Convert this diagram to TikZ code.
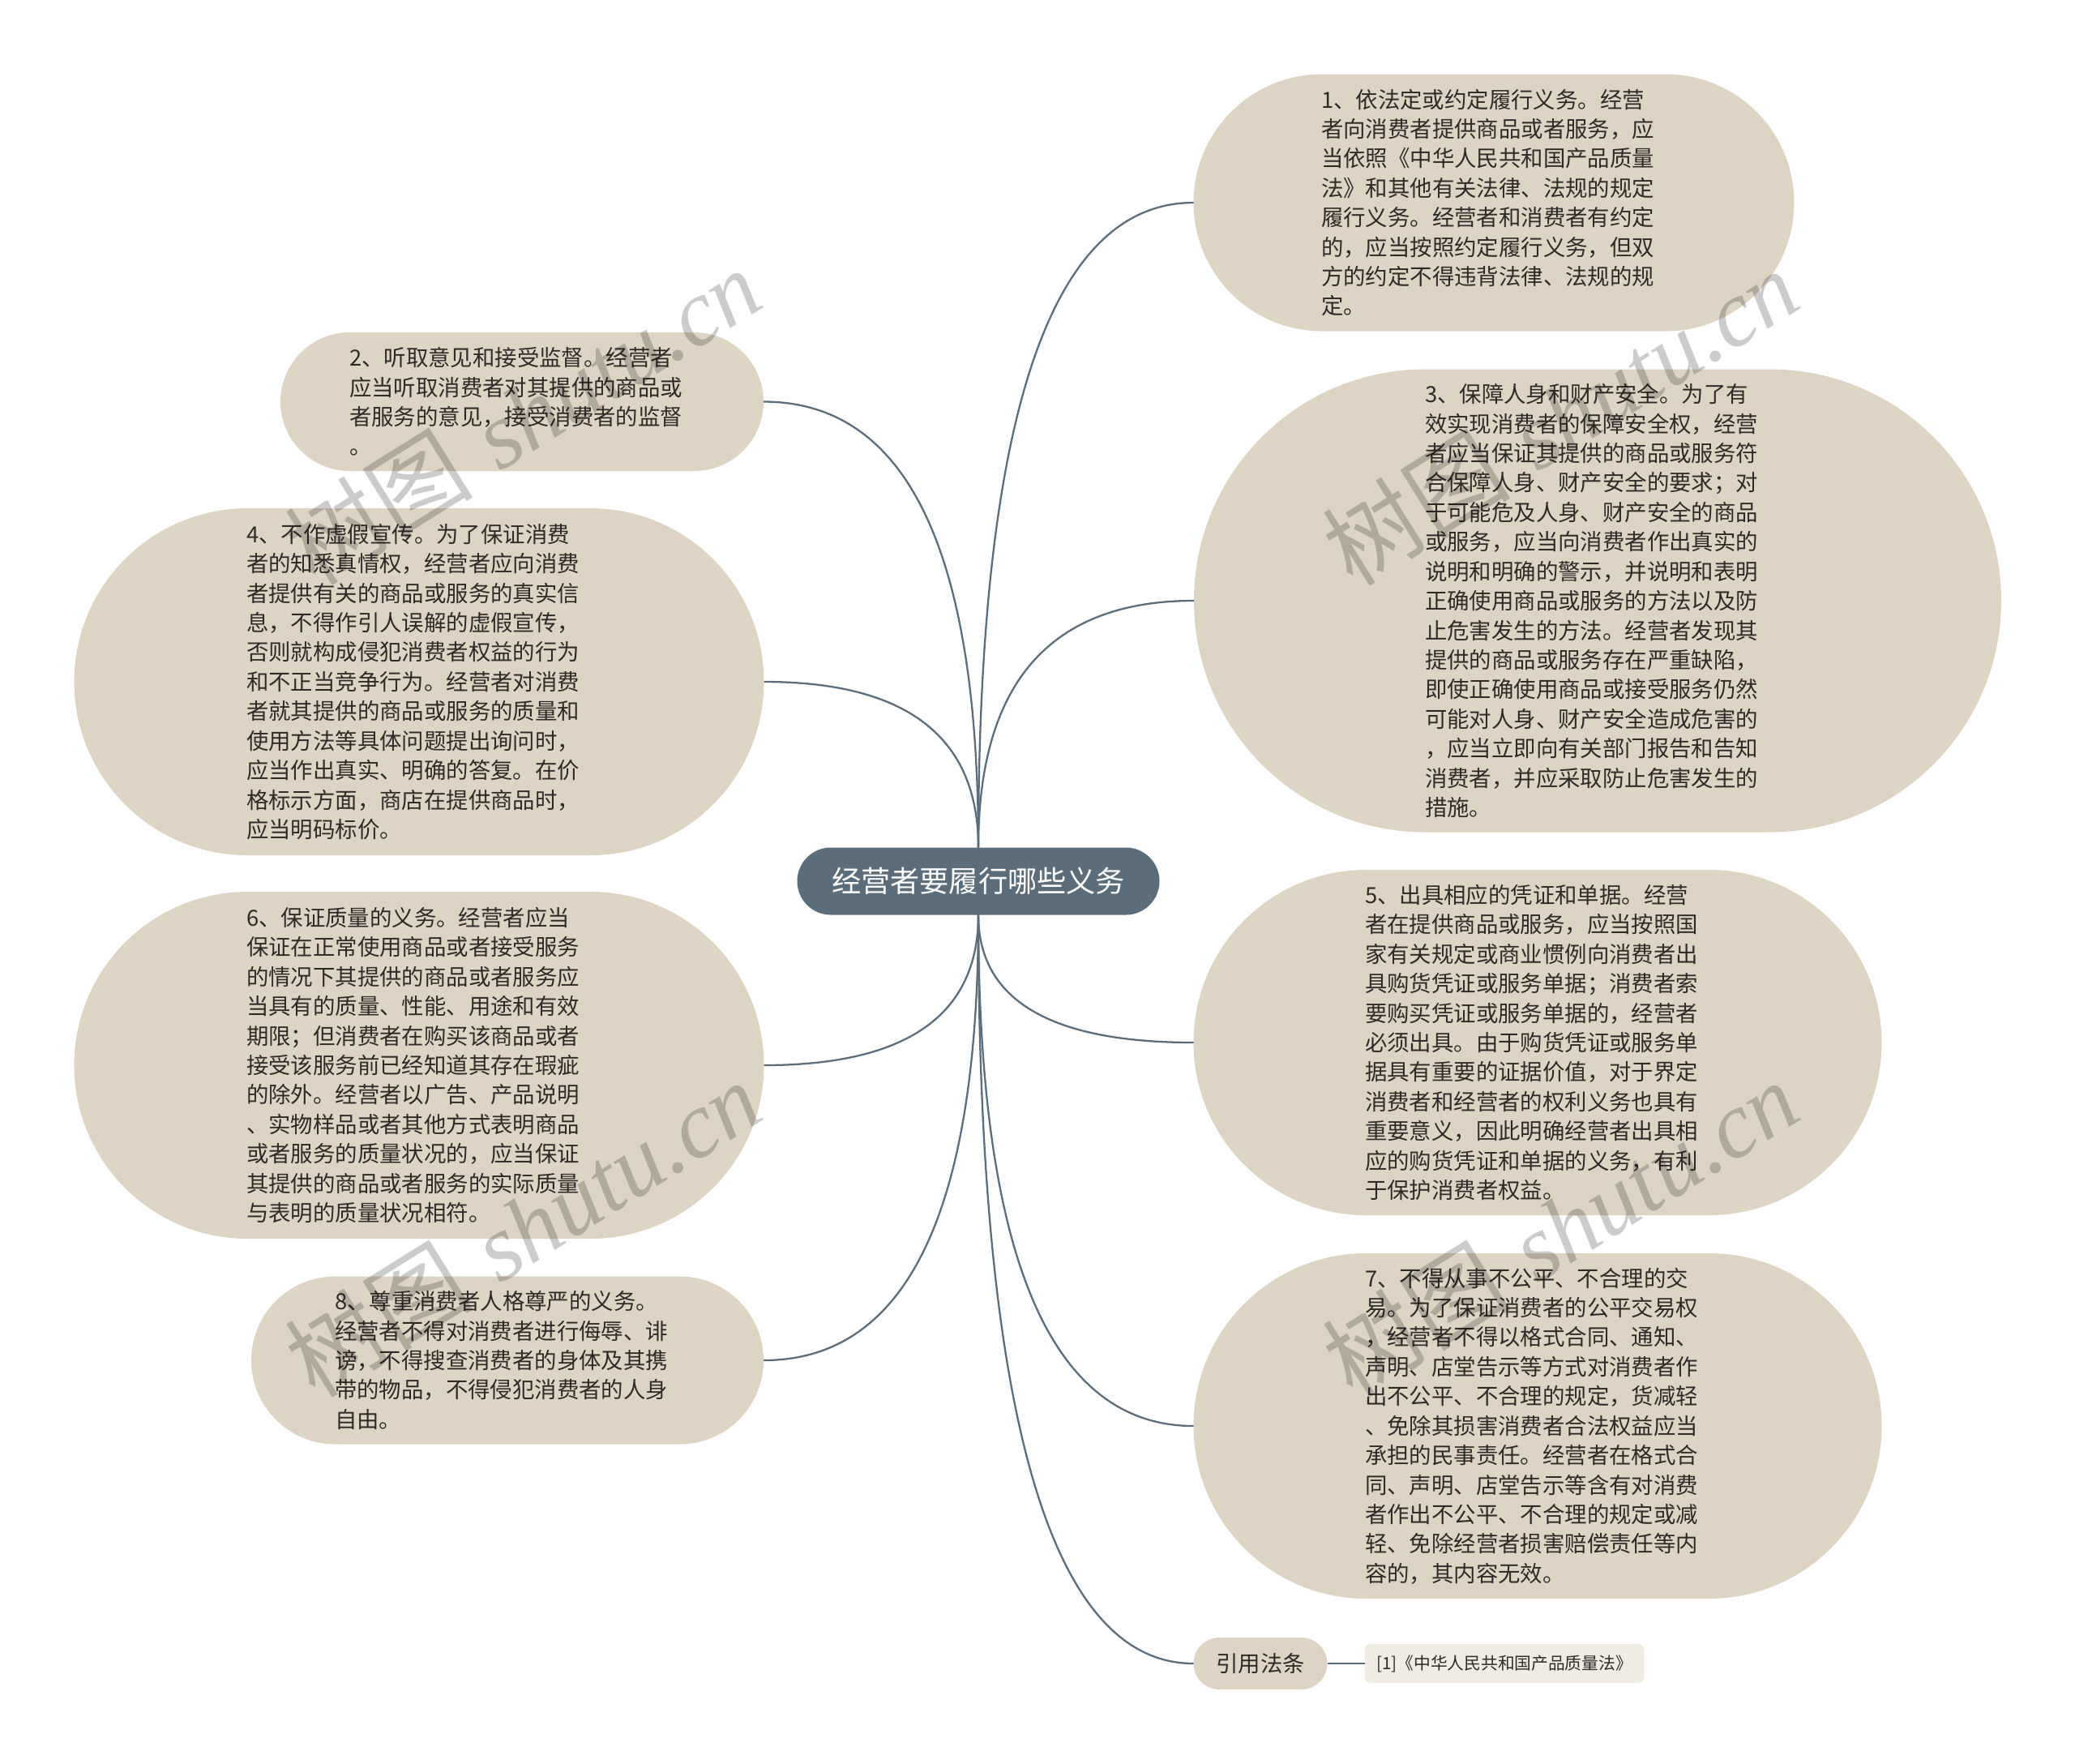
\documentclass[tikz,border=0pt]{standalone}
\usepackage{fontspec}
\newfontfamily\cjk{Noto Sans CJK SC}
\newfontfamily\wmfont{Liberation Serif}
\usetikzlibrary{calc,shapes.misc}
\definecolor{leaffill}{HTML}{DED4C4}
\definecolor{rootfill}{HTML}{5B6D7A}
\definecolor{reffill}{HTML}{F0ECE4}
\definecolor{inkcol}{HTML}{2E2A26}
\tikzset{
	leaf/.style={rounded rectangle,fill=leaffill,inner sep=0pt,outer sep=0pt,align=left,text=inkcol,
		font=\cjk\fontsize{7.8pt}{10.36pt}\selectfont},
	textblock/.style={text width=4.26cm},
	root/.style={rounded rectangle,fill=rootfill,inner sep=0pt,outer sep=0pt,text=white,
		font=\cjk\fontsize{10.3pt}{12pt}\selectfont},
	refbox/.style={rectangle,rounded corners=0.08cm,fill=reffill,inner sep=0pt,outer sep=0pt,text=inkcol,
		font=\cjk\fontsize{5.9pt}{7pt}\selectfont},
	wmark/.style={rotate=32,text=black,text opacity=0.2,font=\fontsize{33pt}{38pt}\selectfont},
	branch/.style={draw=rootfill,line width=0.65pt,
		to path={.. controls ($(\tikztostart)!2/3!(\tikztostart |- \tikztotarget)$)
			and ($(\tikztotarget)!2/3!(\tikztostart |- \tikztotarget)$) .. (\tikztotarget)}}
}

\begin{document}
\begin{tikzpicture}
	\fill[white] (0,0) rectangle (25.6,-21.75);
	\useasboundingbox (0,0) rectangle (25.6,-21.75);

	\node[root,minimum width=4.47cm,minimum height=0.83cm] (ctr) at (12.07,-10.87) {经营者要履行哪些义务};

	\node[leaf,textblock,minimum width=7.41cm,minimum height=3.17cm] (n1) at (18.43,-2.50) {1、依法定或约定履行义务。经营\\
者向消费者提供商品或者服务，应\\
当依照《中华人民共和国产品质量\\
法》和其他有关法律、法规的规定\\
履行义务。经营者和消费者有约定\\
的，应当按照约定履行义务，但双\\
方的约定不得违背法律、法规的规\\
定。};
	\node[leaf,textblock,minimum width=5.96cm,minimum height=1.71cm] (n2) at (6.44,-4.955) {2、听取意见和接受监督。经营者\\
应当听取消费者对其提供的商品或\\
者服务的意见，接受消费者的监督\\
。};
	\node[leaf,textblock,minimum width=9.96cm,minimum height=5.71cm] (n3) at (19.71,-7.41) {3、保障人身和财产安全。为了有\\
效实现消费者的保障安全权，经营\\
者应当保证其提供的商品或服务符\\
合保障人身、财产安全的要求；对\\
于可能危及人身、财产安全的商品\\
或服务，应当向消费者作出真实的\\
说明和明确的警示，并说明和表明\\
正确使用商品或服务的方法以及防\\
止危害发生的方法。经营者发现其\\
提供的商品或服务存在严重缺陷，\\
即使正确使用商品或接受服务仍然\\
可能对人身、财产安全造成危害的\\
，应当立即向有关部门报告和告知\\
消费者，并应采取防止危害发生的\\
措施。};
	\node[leaf,textblock,minimum width=8.51cm,minimum height=4.28cm] (n4) at (5.17,-8.41) {4、不作虚假宣传。为了保证消费\\
者的知悉真情权，经营者应向消费\\
者提供有关的商品或服务的真实信\\
息，不得作引人误解的虚假宣传，\\
否则就构成侵犯消费者权益的行为\\
和不正当竞争行为。经营者对消费\\
者就其提供的商品或服务的质量和\\
使用方法等具体问题提出询问时，\\
应当作出真实、明确的答复。在价\\
格标示方面，商店在提供商品时，\\
应当明码标价。};
	\node[leaf,textblock,minimum width=8.49cm,minimum height=4.26cm] (n5) at (18.97,-12.86) {5、出具相应的凭证和单据。经营\\
者在提供商品或服务，应当按照国\\
家有关规定或商业惯例向消费者出\\
具购货凭证或服务单据；消费者索\\
要购买凭证或服务单据的，经营者\\
必须出具。由于购货凭证或服务单\\
据具有重要的证据价值，对于界定\\
消费者和经营者的权利义务也具有\\
重要意义，因此明确经营者出具相\\
应的购货凭证和单据的义务，有利\\
于保护消费者权益。};
	\node[leaf,textblock,minimum width=8.51cm,minimum height=4.28cm] (n6) at (5.17,-13.14) {6、保证质量的义务。经营者应当\\
保证在正常使用商品或者接受服务\\
的情况下其提供的商品或者服务应\\
当具有的质量、性能、用途和有效\\
期限；但消费者在购买该商品或者\\
接受该服务前已经知道其存在瑕疵\\
的除外。经营者以广告、产品说明\\
、实物样品或者其他方式表明商品\\
或者服务的质量状况的，应当保证\\
其提供的商品或者服务的实际质量\\
与表明的质量状况相符。};
	\node[leaf,textblock,minimum width=8.49cm,minimum height=4.26cm] (n7) at (18.97,-17.59) {7、不得从事不公平、不合理的交\\
易。为了保证消费者的公平交易权\\
，经营者不得以格式合同、通知、\\
声明、店堂告示等方式对消费者作\\
出不公平、不合理的规定，货减轻\\
、免除其损害消费者合法权益应当\\
承担的民事责任。经营者在格式合\\
同、声明、店堂告示等含有对消费\\
者作出不公平、不合理的规定或减\\
轻、免除经营者损害赔偿责任等内\\
容的，其内容无效。};
	\node[leaf,textblock,minimum width=6.32cm,minimum height=2.07cm] (n8) at (6.26,-16.78) {8、尊重消费者人格尊严的义务。\\
经营者不得对消费者进行侮辱、诽\\
谤，不得搜查消费者的身体及其携\\
带的物品，不得侵犯消费者的人身\\
自由。};
	\node[leaf,minimum width=1.65cm,minimum height=0.64cm] (cite) at (15.55,-20.52) {引用法条};
	\node[refbox,minimum width=3.45cm,minimum height=0.48cm] (lawref) at (18.56,-20.52) {[1]《中华人民共和国产品质量法》};

	\draw[branch] (ctr.north) to (n1.west);
	\draw[branch] (ctr.north) to (n2.east);
	\draw[branch] (ctr.north) to (n3.west);
	\draw[branch] (ctr.north) to (n4.east);
	\draw[branch] (ctr.south) to (n5.west);
	\draw[branch] (ctr.south) to (n6.east);
	\draw[branch] (ctr.south) to (n7.west);
	\draw[branch] (ctr.south) to (n8.east);
	\draw[branch] (ctr.south) to (cite.west);
	\draw[draw=rootfill,line width=0.65pt] (cite.east) -- (lawref.west);

	% watermark
	\node[wmark] (wm1) at (6.45,-5.13) {{\cjk 树图} {\wmfont\itshape shutu.cn}};
	\node[wmark] (wm2) at (19.25,-5.14) {{\cjk 树图} {\wmfont\itshape shutu.cn}};
	\node[wmark] (wm3) at (6.45,-15.15) {{\cjk 树图} {\wmfont\itshape shutu.cn}};
	\node[wmark] (wm4) at (19.25,-15.15) {{\cjk 树图} {\wmfont\itshape shutu.cn}};
\end{tikzpicture}
\end{document}
